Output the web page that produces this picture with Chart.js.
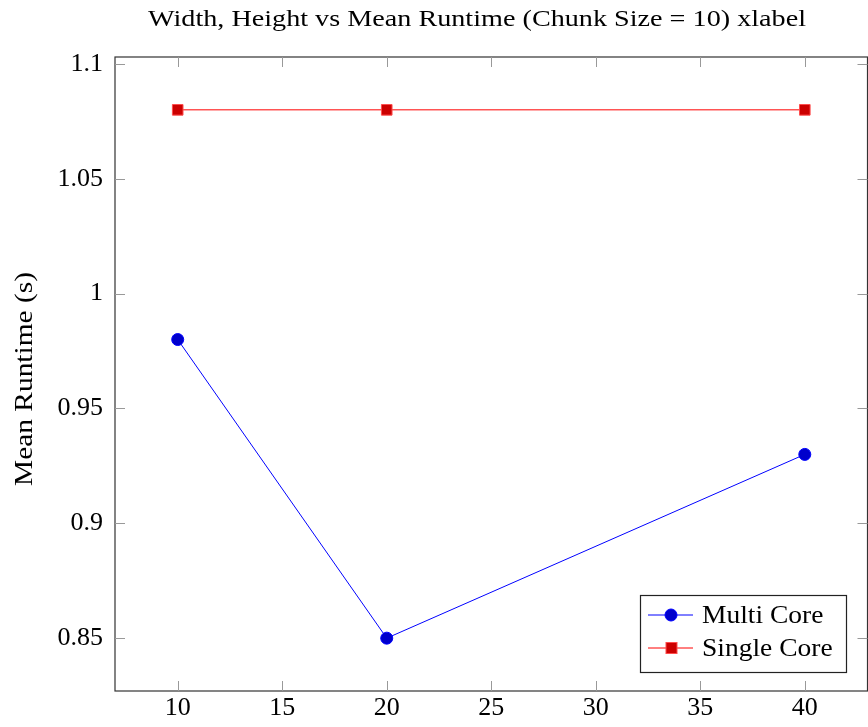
<!DOCTYPE html>
<html>
<head>
<meta charset="utf-8">
<script src="https://cdn.jsdelivr.net/npm/chart.js@4/dist/chart.umd.min.js"></script>
<style>
  html, body { margin: 0; padding: 0; background: #fff; overflow: hidden; }
  #wrap { position: absolute; left: 0; top: 0; width: 876px; height: 727px; }
</style>
</head>
<body>
<div id="wrap"><canvas id="chart"></canvas></div>
<script>
const sizes = [10, 20, 40];
const multiCore = [0.98, 0.85, 0.93];
const singleCore = [1.08, 1.08, 1.08];
const xTicks = [10, 15, 20, 25, 30, 35, 40];
const yTicks = [0.85, 0.9, 0.95, 1, 1.05, 1.1];

const titleText = 'Width, Height vs Mean Runtime (Chunk Size = 10) xlabel';
const yLabel = 'Mean Runtime (s)';
const FONT = '"Liberation Serif", "DejaVu Serif", serif';

const toPoints = (ys) => sizes.map((x, i) => ({ x: x, y: ys[i] }));

// draw text stretched sideways so it looks closer to the TeX font
function wideText(ctx, text, x, y, sx, align) {
  ctx.save();
  ctx.translate(x, y);
  ctx.scale(sx, 1);
  ctx.textAlign = align || 'center';
  ctx.fillText(text, 0, 0);
  ctx.restore();
}

// pgfplots look: inward ticks on all sides, title, y label, boxed legend
const pgfDecor = {
  id: 'pgfDecor',
  afterDraw(chart) {
    const { ctx, chartArea: a, scales } = chart;
    ctx.save();

    ctx.strokeStyle = '#333';
    ctx.lineWidth = 1.2;
    ctx.strokeRect(a.left, a.top, a.right - a.left, a.bottom - a.top);

    ctx.strokeStyle = '#999';
    ctx.lineWidth = 1;
    const len = 10;
    xTicks.forEach(v => {
      const px = Math.round(scales.x.getPixelForValue(v)) + 0.5;
      ctx.beginPath();
      ctx.moveTo(px, a.bottom); ctx.lineTo(px, a.bottom - len);
      ctx.moveTo(px, a.top); ctx.lineTo(px, a.top + len);
      ctx.stroke();
    });
    yTicks.forEach(v => {
      const py = Math.round(scales.y.getPixelForValue(v)) + 0.5;
      ctx.beginPath();
      ctx.moveTo(a.left, py); ctx.lineTo(a.left + len, py);
      ctx.moveTo(a.right, py); ctx.lineTo(a.right - len, py);
      ctx.stroke();
    });

    ctx.fillStyle = '#000';
    ctx.textBaseline = 'middle';

    // title
    ctx.font = '24px ' + FONT;
    const tw = ctx.measureText(titleText).width;
    wideText(ctx, titleText, 477, 20, 658 / tw);

    // y label
    ctx.save();
    ctx.translate(25, 379);
    ctx.rotate(-Math.PI / 2);
    ctx.font = '25px ' + FONT;
    const yw = ctx.measureText(yLabel).width;
    wideText(ctx, yLabel, 0, 0, 214 / yw);
    ctx.restore();

    // legend
    const lx = 640, ly = 595, lw = 206, lh = 77;
    ctx.fillStyle = '#fff';
    ctx.fillRect(lx, ly, lw, lh);
    ctx.strokeStyle = '#222';
    ctx.lineWidth = 1.2;
    ctx.strokeRect(lx + 0.5, ly + 0.5, lw, lh);
    chart.data.datasets.forEach((ds, i) => {
      const cy = ly + 20 + i * 33;
      ctx.strokeStyle = ds.borderColor;
      ctx.lineWidth = 1;
      ctx.beginPath();
      ctx.moveTo(lx + 8, cy); ctx.lineTo(lx + 53, cy);
      ctx.stroke();
      ctx.fillStyle = ds.pointBackgroundColor;
      ctx.strokeStyle = ds.pointBorderColor;
      if (ds.pointStyle === 'rect') {
        ctx.fillRect(lx + 26, cy - 5.5, 11, 11);
        ctx.strokeRect(lx + 26, cy - 5.5, 11, 11);
      } else {
        ctx.beginPath();
        ctx.arc(lx + 31, cy, 6, 0, Math.PI * 2);
        ctx.fill();
        ctx.stroke();
      }
      ctx.fillStyle = '#000';
      ctx.font = '25px ' + FONT;
      wideText(ctx, ds.label, lx + 62, cy + 1, 1.1, 'left');
    });
    ctx.restore();
  }
};

new Chart(document.getElementById('chart'), {
  type: 'line',
  data: {
    datasets: [
      {
        label: 'Multi Core',
        data: toPoints(multiCore),
        borderColor: '#0000ff',
        borderWidth: 1,
        pointStyle: 'circle',
        pointRadius: 6,
        pointBackgroundColor: '#0000cc',
        pointBorderColor: '#0000ff',
        pointBorderWidth: 1,
        tension: 0
      },
      {
        label: 'Single Core',
        data: toPoints(singleCore),
        borderColor: '#ff0000',
        borderWidth: 1,
        pointStyle: 'rect',
        pointRadius: 7.5,
        pointBackgroundColor: '#cc0000',
        pointBorderColor: '#ff4d4d',
        pointBorderWidth: 1,
        tension: 0
      }
    ]
  },
  options: {
    responsive: true,
    maintainAspectRatio: false,
    animation: false,
    layout: { padding: { top: 57, right: 5, left: 0, bottom: 0 } },
    plugins: {
      legend: { display: false },
      title: { display: false },
      tooltip: { enabled: false }
    },
    scales: {
      x: {
        type: 'linear',
        min: 7,
        max: 43,
        afterFit: (s) => { s.height = 36; },
        afterBuildTicks: (s) => { s.ticks = xTicks.map(v => ({ value: v })); },
        grid: { display: false, drawTicks: false },
        border: { display: false },
        ticks: {
          color: '#000',
          padding: 2,
          maxRotation: 0,
          font: { family: FONT, size: 26 }
        }
      },
      y: {
        type: 'linear',
        min: 0.827,
        max: 1.103,
        afterFit: (s) => { s.width = 115; },
        afterBuildTicks: (s) => { s.ticks = yTicks.map(v => ({ value: v })); },
        grid: { display: false, drawTicks: false },
        border: { display: false },
        ticks: {
          color: '#000',
          padding: 12,
          font: { family: FONT, size: 26 },
          callback: (v) => String(v)
        }
      }
    }
  },
  plugins: [pgfDecor]
});
</script>
</body>
</html>
